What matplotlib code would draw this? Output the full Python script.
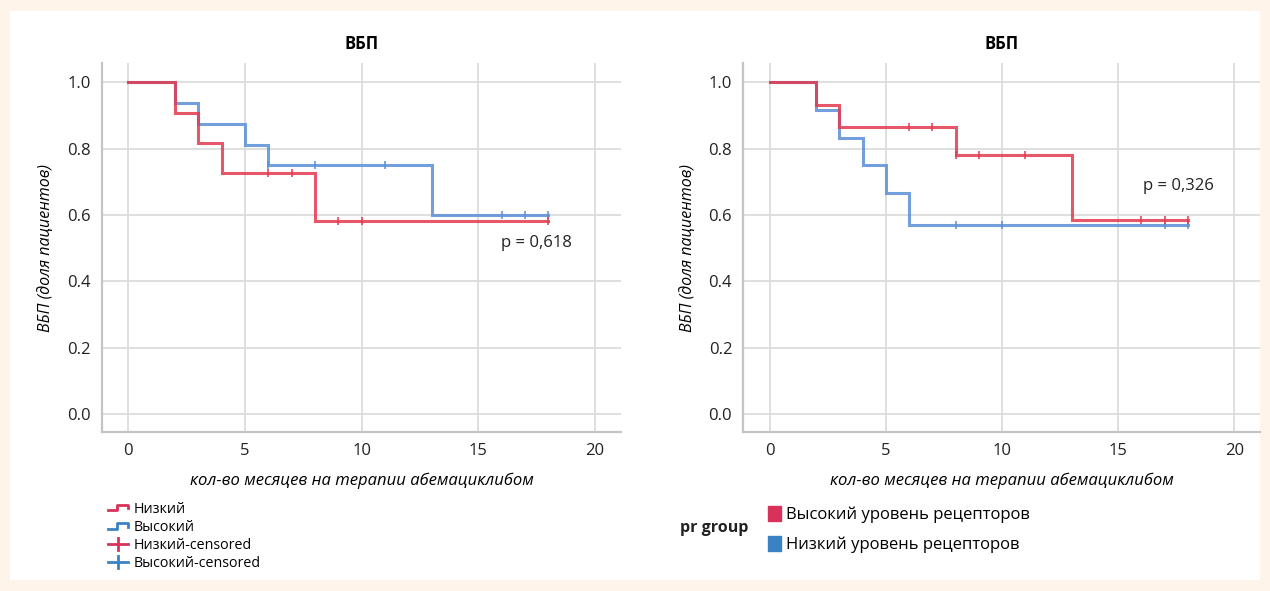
import matplotlib
matplotlib.use('Agg')
import matplotlib.pyplot as plt
from matplotlib.patches import Rectangle, Patch
from matplotlib.lines import Line2D
from matplotlib.legend_handler import HandlerBase

plt.rcParams['font.family'] = ['Open Sans', 'DejaVu Sans']

# left panel: KM curves
low_t = [0, 2, 3, 4, 8, 18]
low_s = [1.0, 0.909, 0.818, 0.727, 0.582, 0.582]
low_cens_t = [6, 7, 9, 10, 18]
high_t = [0, 2, 3, 5, 6, 13, 18]
high_s = [1.0, 0.9375, 0.875, 0.8125, 0.75, 0.6, 0.6]
high_cens_t = [6, 8, 11, 16, 17, 18]

# right panel: receptor groups
hr_t = [0, 2, 3, 8, 13, 18]
hr_s = [1.0, 0.933, 0.867, 0.78, 0.585, 0.585]
hr_cens_t = [6, 7, 8, 9, 11, 16, 17, 18]
lr_t = [0, 2, 3, 4, 5, 6, 18]
lr_s = [1.0, 0.917, 0.833, 0.75, 0.667, 0.571, 0.571]
lr_cens_t = [8, 10, 17, 18]

left_labels = ['Низкий', 'Высокий', 'Низкий-censored', 'Высокий-censored']
right_labels = ['Высокий уровень рецепторов', 'Низкий уровень рецепторов']
p_left = 'p = 0,618'
p_right = 'p = 0,326'

RED = '#e23a4f'
BLUE = '#5b8fd8'
RED_LEG = '#d9325a'
BLUE_LEG = '#3a82c4'


def surv_at(t, s, x):
    val = s[0]
    for ti, si in zip(t, s):
        if ti <= x:
            val = si
    return val


fig = plt.figure(figsize=(12.7, 5.91), dpi=100)
fig.patch.set_facecolor('#fef4ea')
fig.patches.append(Rectangle((10 / 1270, 11 / 591), 1250 / 1270, 569 / 591,
                             transform=fig.transFigure, facecolor='white',
                             edgecolor='none', zorder=-10))


def setup(ax):
    ax.set_xlim(-1.14, 21.12)
    ax.set_ylim(-0.054, 1.058)
    ax.set_xticks([0, 5, 10, 15, 20])
    ax.set_yticks([0.0, 0.2, 0.4, 0.6, 0.8, 1.0])
    ax.set_yticklabels(['0.0', '0.2', '0.4', '0.6', '0.8', '1.0'])
    ax.grid(True, color='#dcdcdc', lw=1.3)
    ax.set_axisbelow(True)
    for s in ['top', 'right']:
        ax.spines[s].set_visible(False)
    for s in ['left', 'bottom']:
        ax.spines[s].set_color('#c4c4c4')
        ax.spines[s].set_linewidth(1.6)
    ax.tick_params(length=0, labelsize=12, colors='#222222', pad=8)
    ax.set_title('ВБП', fontsize=12, fontweight='bold', pad=10)
    ax.set_xlabel('кол-во месяцев на терапии абемациклибом', fontsize=12,
                  style='italic', labelpad=10)
    ax.set_ylabel('ВБП (доля пациентов)', fontsize=11.5, style='italic',
                  labelpad=9)


def km(ax, t, s, cens, color):
    ax.step(t, s, where='post', color=color, lw=2.2, alpha=0.85,
            solid_joinstyle='miter')
    ax.plot(cens, [surv_at(t, s, c) for c in cens], ls='none', marker='|',
            ms=6, mew=1.3, color=color, alpha=0.85)


ax1 = fig.add_axes([0.0801, 0.269, 0.409, 0.624])
setup(ax1)
km(ax1, high_t, high_s, high_cens_t, BLUE)
km(ax1, low_t, low_s, low_cens_t, RED)
ax1.text(17.5, 0.516, p_left, fontsize=12, ha='center', va='center',
         color='#222222')

ax2 = fig.add_axes([0.5853, 0.269, 0.407, 0.624])
setup(ax2)
km(ax2, lr_t, lr_s, lr_cens_t, BLUE)
km(ax2, hr_t, hr_s, hr_cens_t, RED)
ax2.text(17.6, 0.687, p_right, fontsize=12, ha='center', va='center',
         color='#222222')


class StepHandler(HandlerBase):
    def create_artists(self, legend, orig_handle, xd, yd, w, h, fs, trans):
        x = [-xd, -xd + 0.45 * w, -xd + 0.45 * w, -xd + w, -xd + w]
        y = [-yd + 0.25 * h, -yd + 0.25 * h, -yd + 0.8 * h, -yd + 0.8 * h,
             -yd + 0.45 * h]
        ln = Line2D(x, y, color=orig_handle.get_color(), lw=2,
                    transform=trans)
        return [ln]


class CrossHandler(HandlerBase):
    def create_artists(self, legend, orig_handle, xd, yd, w, h, fs, trans):
        c = orig_handle.get_color()
        hl = Line2D([-xd, -xd + w], [-yd + 0.5 * h] * 2, color=c, lw=2,
                    transform=trans)
        vl = Line2D([-xd + 0.5 * w] * 2, [-yd - 0.1 * h, -yd + 1.1 * h],
                    color=c, lw=2, transform=trans)
        return [hl, vl]


h_low = Line2D([], [], color=RED_LEG)
h_high = Line2D([], [], color=BLUE_LEG)
h_lowc = Line2D([], [], color=RED_LEG, marker='+')
h_highc = Line2D([], [], color=BLUE_LEG, marker='+')
fig.legend([h_low, h_high, h_lowc, h_highc], left_labels,
           handler_map={h_low: StepHandler(), h_high: StepHandler(),
                        h_lowc: CrossHandler(), h_highc: CrossHandler()},
           loc='upper left', bbox_to_anchor=(108 / 1270, 1 - 502 / 591),
           frameon=False, fontsize=10.3, handlelength=1.4, handletextpad=0.4,
           labelspacing=0.22, borderpad=0, borderaxespad=0)

fig.text(714 / 1270, 1 - 528 / 591, 'pr group', fontsize=11.5,
         fontweight='bold', ha='center', va='center', color='#222222')
fig.legend([Patch(color=RED_LEG), Patch(color=BLUE_LEG)], right_labels,
           loc='upper left', bbox_to_anchor=(768 / 1270, 1 - 506 / 591),
           frameon=False, fontsize=12, handlelength=0.75, handleheight=1.0,
           handletextpad=0.3, labelspacing=0.75, borderpad=0, borderaxespad=0)

fig.savefig('out.png', dpi=100, facecolor=fig.get_facecolor())
